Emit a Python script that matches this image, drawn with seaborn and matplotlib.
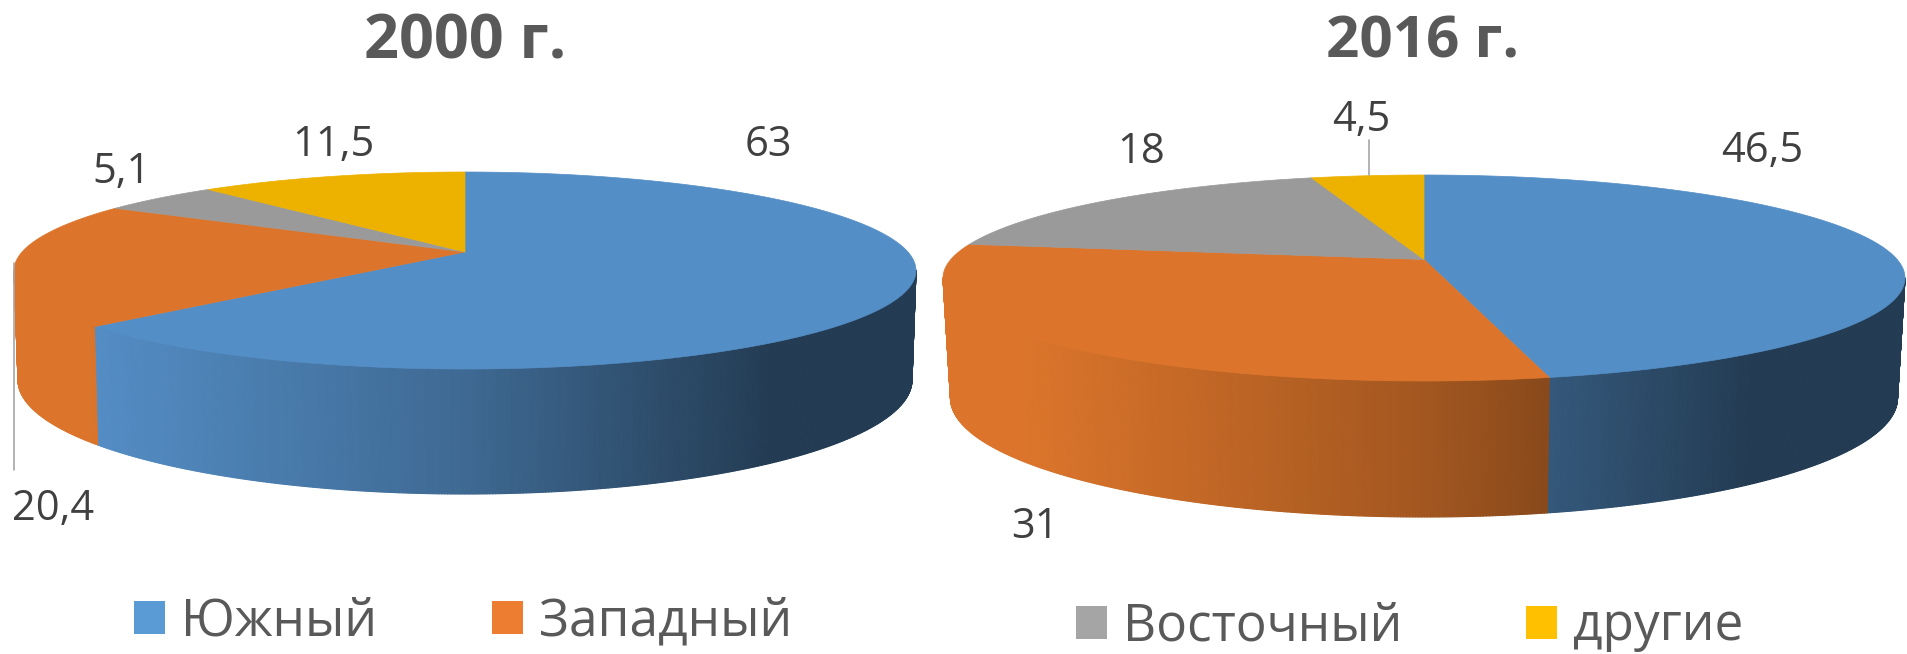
"""Two tilted 3D pies of regional shares, 2000 vs 2016."""
import numpy as np
import seaborn as sns
import matplotlib.pyplot as plt
from matplotlib.collections import PolyCollection
from matplotlib.patches import Patch

sns.set_theme(style="white")
plt.rcParams['font.family'] = ['Open Sans', 'DejaVu Sans']

regions = ["Южный", "Западный", "Восточный", "другие"]
titles = ["2000 г.", "2016 г."]
shares_2000 = [63, 20.4, 5.1, 11.5]
shares_2016 = [46.5, 31, 18, 4.5]
labels_2000 = ["63", "20,4", "5,1", "11,5"]
labels_2016 = ["46,5", "31", "18", "4,5"]

top_colors = sns.color_palette(["#548ec6", "#dc752b", "#9a9a9a", "#edb200"])
legend_colors = sns.color_palette(["#5b9bd5", "#ed7d31", "#a5a5a5", "#ffc000"])

# layout in pixels: top ellipse, bottom ellipse (cx, cy, rx, ry), perspective shift
shape_2000 = dict(top=(465, 270.5, 451, 98.5), bottom=(465, 380, 447, 114), shift=-0.188)
shape_2016 = dict(top=(1424, 278, 481, 103), bottom=(1424, 398, 473.5, 119), shift=-0.18)

# where the value labels sit
label_pos_2000 = [(768, 145), (53, 509), (122, 172), (333, 145)]
label_pos_2016 = [(1762, 151), (1035, 527), (1141, 152), (1361, 120)]


def project(theta, shift):
    # circle -> ellipse coords, the centre of the pie moves back by shift
    x = np.sin(theta)
    y = -np.cos(theta)
    denom = 1 + shift * y
    return x * np.sqrt(1 - shift ** 2) / denom, (y + shift) / denom


def side_shade(s):
    # light falls from the left, the right part of the rim is dark
    return np.interp(s, [-0.85, 0, 0.26, 0.68, 1], [1, 0.74, 0.62, 0.42, 0.42])


def draw_pie(ax, shares, shape):
    cx, cy, rx, ry = shape["top"]
    bx, by, brx, bry = shape["bottom"]
    shift = shape["shift"]
    edges = np.cumsum([0] + shares) / 100 * 2 * np.pi

    # rim first
    quads, quad_colors = [], []
    for i in range(len(shares)):
        theta = np.linspace(edges[i], edges[i + 1], int(shares[i] * 12) + 2)
        px, py = project(theta, shift)
        for j in range(len(theta) - 1):
            if py[j] < -0.004 or py[j + 1] < -0.004:
                continue
            quads.append([(cx + rx * px[j], cy + ry * py[j]),
                          (cx + rx * px[j + 1], cy + ry * py[j + 1]),
                          (bx + brx * px[j + 1], by + bry * py[j + 1]),
                          (bx + brx * px[j], by + bry * py[j])])
            quad_colors.append(np.array(top_colors[i]) * side_shade((px[j] + px[j + 1]) / 2))
    ax.add_collection(PolyCollection(quads, facecolors=quad_colors, edgecolors=quad_colors, linewidths=0.8))

    # then the top face
    for i in range(len(shares)):
        theta = np.linspace(edges[i], edges[i + 1], 200)
        px, py = project(theta, shift)
        xs = np.r_[cx, cx + rx * px]
        ys = np.r_[cy + ry * shift, cy + ry * py]
        ax.fill(xs, ys, color=top_colors[i], linewidth=0.5)


fig = plt.figure(figsize=(19.07, 6.54), dpi=100)
ax = fig.add_axes([0, 0, 1, 1])
ax.set_xlim(0, 1907)
ax.set_ylim(654, 0)
ax.axis("off")

draw_pie(ax, shares_2000, shape_2000)
draw_pie(ax, shares_2016, shape_2016)

# leader lines
ax.plot([13.5, 13.5], [263, 470], color="#a6a6a6", lw=1.2)
ax.plot([1369, 1369], [140, 175], color="#a6a6a6", lw=1.2)

ax.text(465, 43, titles[0], ha="center", va="center", fontsize=44, fontweight="bold", color="#595959")
ax.text(1423, 43, titles[1], ha="center", va="center", fontsize=42, fontweight="bold", color="#595959")

for lab, pos in zip(labels_2000 + labels_2016, label_pos_2000 + label_pos_2016):
    ax.text(pos[0], pos[1], lab, ha="center", va="center", fontsize=30, color="#404040")

# the legend is split in two halves under the pies
handles = [Patch(facecolor=c, edgecolor="none", label=r) for c, r in zip(legend_colors, regions)]
opts = dict(ncol=2, frameon=False, fontsize=37, labelcolor="#595959", handlelength=0.6, handleheight=0.6,
            handletextpad=0.32, borderpad=0, borderaxespad=0, loc="center left", bbox_transform=ax.transData)
left_legend = ax.legend(handles=handles[:2], bbox_to_anchor=(134, 622), columnspacing=2.23, **opts)
ax.add_artist(left_legend)
ax.legend(handles=handles[2:], bbox_to_anchor=(1076, 627), columnspacing=2.4, **opts)

fig.savefig("out.png", dpi=100)
